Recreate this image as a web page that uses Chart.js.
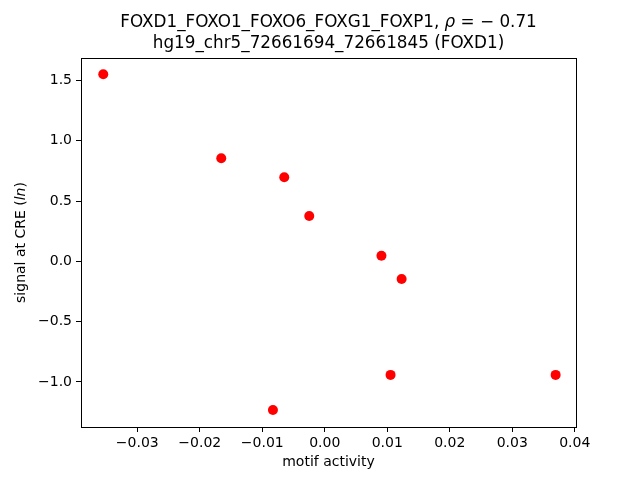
<!DOCTYPE html>
<html>
<head>
<meta charset="utf-8">
<script src="https://cdn.jsdelivr.net/npm/chart.js@4.4.1/dist/chart.umd.min.js"></script>
<style>
html,body{margin:0;padding:0;background:#fff;}
#wrap{width:640px;height:480px;position:relative;}
</style>
</head>
<body>
<div id="wrap"><canvas id="c" width="640" height="480"></canvas></div>
<script>
const motifActivity = [-0.03544, -0.01656, -0.00648, -0.00248, 0.00907, 0.01230, 0.01053, 0.03694, -0.00829];
const creSignal = [1.551, 0.854, 0.697, 0.376, 0.046, -0.147, -0.942, -0.942, -1.233];
const xTicks = [-0.03, -0.02, -0.01, 0.00, 0.01, 0.02, 0.03, 0.04];
const yTicks = [-1.0, -0.5, 0.0, 0.5, 1.0, 1.5];
const titleLine1 = [["FOXD1_FOXO1_FOXO6_FOXG1_FOXP1, ", "normal"], ["\u03C1", "italic"], [" = \u2212 0.71", "normal"]];
const titleLine2 = "hg19_chr5_72661694_72661845 (FOXD1)";
const xLabel = "motif activity";
const yLabel = [["signal at CRE (", "normal"], ["ln", "italic"], [")", "normal"]];

const FONT = "'DejaVu Sans', sans-serif";
function fmt(v, d){ const s = Math.abs(v).toFixed(d); return (v < -1e-12 ? "\u2212" : "") + s; }

function drawParts(ctx, parts, size, cx, cy){
  let total = 0;
  parts.forEach(p => { ctx.font = p[1] + " " + size + "px " + FONT; total += ctx.measureText(p[0]).width; });
  let x = cx - total/2;
  ctx.textAlign = 'left'; ctx.textBaseline = 'middle';
  parts.forEach(p => { ctx.font = p[1] + " " + size + "px " + FONT; ctx.fillText(p[0], x, cy); x += ctx.measureText(p[0]).width; });
}

const decor = {
  id: 'decor',
  afterDraw(chart){
    const {ctx, chartArea:a} = chart;
    ctx.save();
    ctx.strokeStyle = '#000'; ctx.lineWidth = 1;
    ctx.strokeRect(Math.round(a.left)+0.5, Math.round(a.top)+0.5, Math.round(a.right-a.left), Math.round(a.bottom-a.top));
    const cx = (a.left + a.right)/2;
    ctx.fillStyle = '#000';
    drawParts(ctx, titleLine1, 16.8, cx, 23);
    ctx.textAlign = 'center'; ctx.textBaseline = 'middle';
    ctx.font = "16.8px " + FONT;
    ctx.fillText(titleLine2, cx, 44);
    ctx.font = "14px " + FONT;
    ctx.fillText(xLabel, cx, 462);
    ctx.translate(21, (a.top + a.bottom)/2);
    ctx.rotate(-Math.PI/2);
    drawParts(ctx, yLabel, 14, 0, 0);
    ctx.restore();
  }
};

new Chart(document.getElementById('c'), {
  type: 'scatter',
  data: {
    datasets: [{
      data: motifActivity.map((x, i) => ({x: x, y: creSignal[i]})),
      backgroundColor: '#ff0000',
      borderColor: '#ff0000',
      borderWidth: 0,
      pointRadius: 5,
      pointHoverRadius: 5
    }]
  },
  options: {
    responsive: false,
    animation: false,
    events: [],
    layout: {padding: {left: 0, right: 64, top: 58, bottom: 0}},
    plugins: {legend: {display: false}, tooltip: {enabled: false}, title: {display: false}},
    scales: {
      x: {
        type: 'linear', min: -0.0390, max: 0.0402,
        afterBuildTicks: s => { s.ticks = xTicks.map(v => ({value: v})); },
        afterFit: s => { s.height = 53; },
        grid: {drawOnChartArea: false, drawTicks: true, tickLength: 5, tickColor: '#000', color: '#000'},
        border: {display: false},
        ticks: {color: '#000', font: {family: FONT, size: 14}, padding: 3, maxRotation: 0, autoSkip: false, callback: v => fmt(v, 2)}
      },
      y: {
        type: 'linear', min: -1.374, max: 1.686,
        afterBuildTicks: s => { s.ticks = yTicks.map(v => ({value: v})); },
        afterFit: s => { s.width = 81; },
        grid: {drawOnChartArea: false, drawTicks: true, tickLength: 5, tickColor: '#000', color: '#000'},
        border: {display: false},
        ticks: {color: '#000', font: {family: FONT, size: 14}, padding: 4, autoSkip: false, callback: v => fmt(v, 1)}
      }
    }
  },
  plugins: [decor]
});
</script>
</body>
</html>
